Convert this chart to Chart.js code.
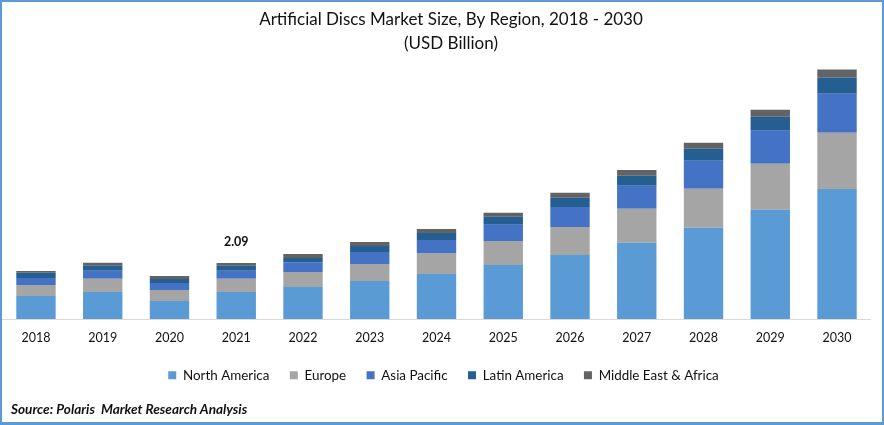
<!DOCTYPE html>
<html><head><meta charset="utf-8">
<style>
html,body{margin:0;padding:0;background:#fff;width:884px;height:425px;overflow:hidden}
#wrap{position:relative;width:884px;height:425px}
canvas{position:absolute;left:0;top:0}
#frame{position:absolute;left:0;top:0;width:884px;height:425px;box-sizing:border-box;border:solid #5B9BD5;border-width:2px 2px 3px 2px;pointer-events:none}
#src{position:absolute;left:11px;top:401px;font:italic 700 13.6px Lato,sans-serif;color:#111;white-space:pre}
</style>
<script src="https://cdn.jsdelivr.net/npm/chart.js@4/dist/chart.umd.min.js"></script>
</head><body>
<div id="wrap"><canvas id="c" width="884" height="425"></canvas><div id="frame"></div><div id="src">Source: Polaris  Market Research Analysis</div></div>
<script>
const years=['2018','2019','2020','2021','2022','2023','2024','2025','2026','2027','2028','2029','2030'];
const northAmerica=[0.86,1.01,0.67,1.01,1.19,1.42,1.68,2.01,2.39,2.84,3.40,4.07,4.85];
const europe=[0.41,0.49,0.41,0.49,0.56,0.63,0.78,0.90,1.04,1.27,1.46,1.72,2.09];
const asiaPacific=[0.26,0.30,0.26,0.30,0.37,0.45,0.49,0.60,0.75,0.86,1.04,1.23,1.46];
const latinAmerica=[0.19,0.19,0.15,0.19,0.15,0.22,0.26,0.30,0.34,0.37,0.45,0.52,0.60];
const middleEast=[0.07,0.11,0.11,0.10,0.15,0.15,0.15,0.15,0.19,0.22,0.22,0.26,0.30];
const annotatedYear='2021';
const annotatedText='2.09';
const FONT='Lato, sans-serif';
const mk=(label,data,color)=>({label,data,backgroundColor:color,borderWidth:0,stack:'s',barPercentage:0.59,categoryPercentage:1});
const note={id:'note',
 afterLayout(ch){
  ch.titleBlock.left+=14.5;ch.titleBlock.right+=14.5;
  ch.legend.left+=7;ch.legend.right+=7;
 },
 afterDatasetsDraw(ch){
  const i=years.indexOf(annotatedYear);
  const meta=ch.getDatasetMeta(ch.data.datasets.length-1).data[i];
  const c=ch.ctx;c.save();c.font='700 12.5px '+FONT;c.fillStyle='#111';c.textAlign='center';c.textBaseline='middle';
  c.fillText(annotatedText,meta.x,meta.y-21);c.restore();
}};
new Chart(document.getElementById('c'),{type:'bar',plugins:[note],
 data:{labels:years,datasets:[
  mk('North America',northAmerica,'#5B9BD5'),
  mk('Europe',europe,'#A5A5A5'),
  mk('Asia Pacific',asiaPacific,'#4472C4'),
  mk('Latin America',latinAmerica,'#255E91'),
  mk('Middle East & Africa',middleEast,'#636363')]},
 options:{responsive:false,animation:false,
  layout:{padding:{left:2.6,right:13.6,top:8,bottom:33}},
  plugins:{
   title:{display:true,text:['Artificial Discs Market Size, By Region, 2018 - 2030','(USD Billion)'],color:'#111',font:{family:FONT,size:17,weight:'400',lineHeight:1.4},padding:{top:0,bottom:7.8}},
   legend:{position:'bottom',labels:{boxWidth:8,boxHeight:8,padding:20.4,color:'#111',font:{family:FONT,size:13.4}}},
   tooltip:{enabled:false}},
  scales:{
   x:{stacked:true,grid:{display:false,drawTicks:false},border:{display:true,color:'#D9D9D9',width:1},
      ticks:{color:'#111',font:{family:FONT,size:12.5},padding:11,maxRotation:0},
      afterFit(s){s.height-=7.8;}},
   y:{stacked:true,display:false,min:0,max:9.53}}
 }});
</script></body></html>
